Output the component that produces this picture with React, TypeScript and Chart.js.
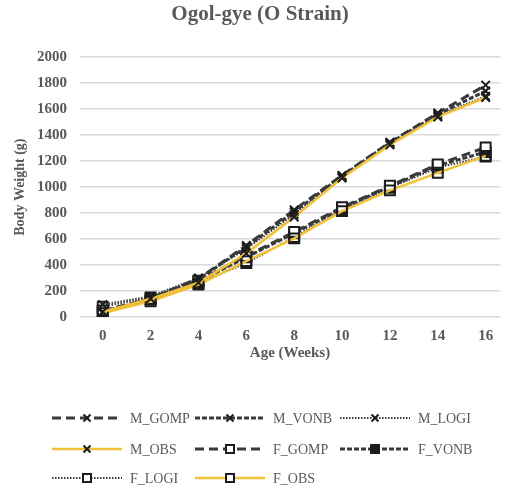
import React, { useEffect, useRef } from "react";
import { Chart, registerables } from "chart.js";

Chart.register(...registerables);

const weeks = [0, 2, 4, 6, 8, 10, 12, 14, 16];
const xTicks = [0, 2, 4, 6, 8, 10, 12, 14, 16];
const yTicks = [0, 200, 400, 600, 800, 1000, 1200, 1400, 1600, 1800, 2000];

const M_GOMP = [30, 145, 295, 550, 825, 1090, 1345, 1570, 1785];
const M_VONB = [35, 140, 290, 540, 810, 1085, 1340, 1560, 1740];
const M_LOGI = [95, 160, 300, 525, 790, 1075, 1330, 1550, 1700];
const M_OBS = [40, 140, 265, 490, 770, 1070, 1325, 1540, 1690];
const F_GOMP = [50, 140, 280, 470, 655, 845, 1010, 1175, 1305];
const F_VONB = [45, 135, 275, 460, 645, 835, 1005, 1165, 1270];
const F_LOGI = [80, 150, 262, 415, 615, 825, 995, 1150, 1235];
const F_OBS = [30, 120, 250, 430, 605, 815, 975, 1110, 1240];

const DARK = "#3a3a3a";
const MARK = "#1c1c1c";
const GOLD = "#F0C23A";
const TXT = "#595959";
const SERIF = "'Liberation Serif', 'DejaVu Serif', serif";

type S = {
  label: string;
  values: number[];
  color: string;
  width: number;
  dash: number[];
  marker: "crossRot" | "rect";
  fill: string;
  order: number;
};

const series: S[] = [
  { label: "M_GOMP", values: M_GOMP, color: DARK, width: 3, dash: [9, 5], marker: "crossRot", fill: MARK, order: 2 },
  { label: "M_VONB", values: M_VONB, color: DARK, width: 3, dash: [5, 2], marker: "crossRot", fill: MARK, order: 2 },
  { label: "M_LOGI", values: M_LOGI, color: DARK, width: 2, dash: [1.5, 1.5], marker: "crossRot", fill: MARK, order: 2 },
  { label: "M_OBS", values: M_OBS, color: GOLD, width: 2.5, dash: [], marker: "crossRot", fill: MARK, order: 1 },
  { label: "F_GOMP", values: F_GOMP, color: DARK, width: 3, dash: [9, 5], marker: "rect", fill: "#ffffff", order: 2 },
  { label: "F_VONB", values: F_VONB, color: DARK, width: 3, dash: [5, 2], marker: "rect", fill: MARK, order: 2 },
  { label: "F_LOGI", values: F_LOGI, color: DARK, width: 2, dash: [1.5, 1.5], marker: "rect", fill: "#ffffff", order: 2 },
  { label: "F_OBS", values: F_OBS, color: GOLD, width: 2.5, dash: [], marker: "rect", fill: "rgba(0,0,0,0)", order: 1 },
];

const legendPlugin = {
  id: "gridLegend",
  afterDraw(chart: any) {
    const ctx = chart.ctx as CanvasRenderingContext2D;
    const textCols = [130, 273, 418];
    const rows = [418, 449, 478];
    ctx.save();
    series.forEach((s, i) => {
      const col = i % 3;
      const row = Math.floor(i / 3);
      const tx = textCols[col];
      const y = rows[row];
      const x0 = tx - 78;
      const x1 = tx - 8;
      ctx.beginPath();
      ctx.setLineDash(s.dash);
      ctx.lineWidth = s.width;
      ctx.strokeStyle = s.color;
      ctx.moveTo(x0, y);
      ctx.lineTo(x1, y);
      ctx.stroke();
      ctx.setLineDash([]);
      const cx = (x0 + x1) / 2;
      if (s.marker === "crossRot") {
        ctx.beginPath();
        ctx.lineWidth = 2;
        ctx.strokeStyle = MARK;
        ctx.moveTo(cx - 3.5, y - 3.5);
        ctx.lineTo(cx + 3.5, y + 3.5);
        ctx.moveTo(cx + 3.5, y - 3.5);
        ctx.lineTo(cx - 3.5, y + 3.5);
        ctx.stroke();
      } else {
        ctx.fillStyle = s.fill === "rgba(0,0,0,0)" ? "#ffffff" : s.fill;
        ctx.fillRect(cx - 4, y - 4, 8, 8);
        ctx.lineWidth = 2;
        ctx.strokeStyle = MARK;
        ctx.strokeRect(cx - 4, y - 4, 8, 8);
      }
      ctx.fillStyle = TXT;
      ctx.font = `14px ${SERIF}`;
      ctx.textAlign = "left";
      ctx.textBaseline = "middle";
      ctx.fillText(s.label, tx, y + 1);
    });
    ctx.restore();
  },
};

export default function App() {
  const ref = useRef<HTMLCanvasElement | null>(null);

  useEffect(() => {
    if (!ref.current) return;
    const chart = new Chart(ref.current, {
      type: "line",
      data: {
        datasets: series.map((s) => ({
          label: s.label,
          data: weeks.map((w, i) => ({ x: w, y: s.values[i] })),
          borderColor: s.color,
          borderWidth: s.width,
          borderDash: s.dash,
          pointStyle: s.marker,
          pointRadius: s.marker === "rect" ? 7 : 6,
          pointBorderColor: MARK,
          pointBackgroundColor: s.fill,
          pointBorderWidth: 2,
          tension: 0,
          fill: false,
          order: s.order,
        })),
      },
      options: {
        responsive: false,
        animation: false,
        layout: { padding: { left: 12, right: 1, top: 0, bottom: 130 } },
        plugins: {
          legend: { display: false },
          tooltip: { enabled: false },
          title: {
            display: true,
            text: "Ogol-gye (O Strain)",
            color: TXT,
            font: { family: SERIF, size: 21, weight: "bold" },
            padding: { top: 2, bottom: 30 },
          },
        },
        scales: {
          x: {
            type: "linear",
            min: -0.95,
            max: 16.6,
            afterBuildTicks: (scale: any) => {
              scale.ticks = xTicks.map((v) => ({ value: v }));
            },
            afterFit: (scale: any) => {
              scale.height = 45;
            },
            grid: { display: false, drawTicks: false },
            border: { display: false },
            ticks: {
              padding: 10,
              color: TXT,
              font: { family: SERIF, size: 15, weight: "bold" },
              maxRotation: 0,
              callback: (v: any) => String(v),
            },
            title: {
              display: true,
              text: "Age (Weeks)",
              color: TXT,
              font: { family: SERIF, size: 15, weight: "bold" },
              padding: { top: 0, bottom: 0 },
            },
          },
          y: {
            min: 0,
            max: 2000,
            afterBuildTicks: (scale: any) => {
              scale.ticks = yTicks.map((v) => ({ value: v }));
            },
            afterFit: (scale: any) => {
              scale.width = 68;
            },
            grid: { color: "#d9d9d9", lineWidth: 1.5, drawTicks: false },
            border: { display: false },
            ticks: {
              padding: 13,
              color: TXT,
              font: { family: SERIF, size: 15, weight: "bold" },
              callback: (v: any) => String(v),
            },
            title: {
              display: true,
              text: "Body Weight (g)",
              color: TXT,
              font: { family: SERIF, size: 14, weight: "bold" },
              padding: { top: 0, bottom: 0 },
            },
          },
        },
      },
      plugins: [legendPlugin],
    });
    return () => chart.destroy();
  }, []);

  return (
    <div style={{ position: "fixed", left: 0, top: 0, width: 509, height: 492, background: "#fff" }}>
      <canvas ref={ref} width={509} height={492} style={{ width: 509, height: 492 }} />
    </div>
  );
}
